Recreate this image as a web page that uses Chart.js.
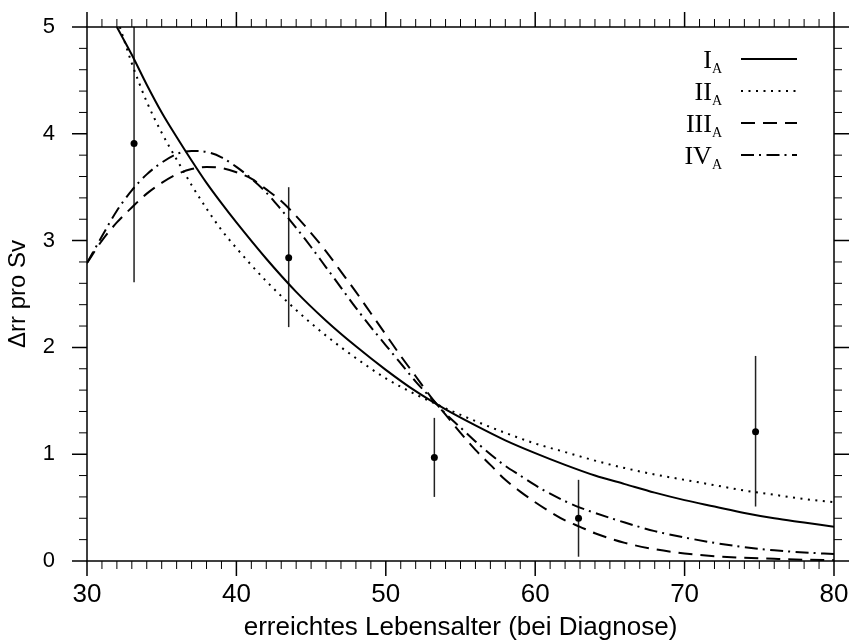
<!DOCTYPE html>
<html>
<head>
<meta charset="utf-8">
<script src="https://cdn.jsdelivr.net/npm/chart.js@4.4.1/dist/chart.umd.min.js"></script>
<style>
  html, body { margin: 0; padding: 0; background: #fff; }
  #wrap { width: 851px; height: 641px; }
</style>
</head>
<body>
<div id="wrap"><canvas id="c" width="851" height="641"></canvas></div>
<script>
// ---- data ----
const xTickLabels = [30, 40, 50, 60, 70, 80];
const yTickLabels = [0, 1, 2, 3, 4, 5];
const legendLabels = ['I', 'II', 'III', 'IV'];
const legendSub = 'A';

const xI = [32, 33, 34, 35, 36, 37, 38, 39, 40, 42, 44, 46, 48, 50, 52, 54, 56, 58, 60, 62, 64, 66, 68, 70, 72, 74, 76, 78, 80];
const yI = [5.00, 4.74, 4.46, 4.20, 3.97, 3.75, 3.54, 3.35, 3.17, 2.83, 2.52, 2.25, 2.01, 1.79, 1.59, 1.42, 1.27, 1.13, 1.01, 0.90, 0.80, 0.72, 0.64, 0.57, 0.51, 0.45, 0.40, 0.36, 0.32];

const xII = [32.2, 33, 34, 35, 36, 37, 38, 39, 40, 42, 44, 46, 48, 50, 52, 54, 56, 58, 60, 62, 64, 66, 68, 70, 72, 74, 76, 78, 80];
const yII = [5.00, 4.66, 4.30, 4.01, 3.76, 3.52, 3.30, 3.10, 2.93, 2.62, 2.35, 2.11, 1.90, 1.71, 1.56, 1.43, 1.31, 1.20, 1.10, 1.02, 0.94, 0.87, 0.81, 0.76, 0.71, 0.66, 0.62, 0.58, 0.55];

const xIII = [30, 31, 32, 33, 34, 35, 36, 37, 38, 39, 40, 41, 42, 43, 44, 45, 46, 47, 48, 49, 50, 51, 52, 53, 54, 55, 56, 57, 58, 59, 60, 61, 62, 63, 64, 66, 68, 70, 72, 74, 76, 78, 80];
const yIII = [2.79, 3.00, 3.17, 3.31, 3.44, 3.54, 3.62, 3.67, 3.69, 3.68, 3.64, 3.58, 3.48, 3.37, 3.23, 3.07, 2.90, 2.71, 2.52, 2.32, 2.12, 1.92, 1.73, 1.54, 1.37, 1.20, 1.04, 0.90, 0.76, 0.65, 0.55, 0.46, 0.38, 0.32, 0.26, 0.17, 0.11, 0.07, 0.045, 0.03, 0.02, 0.012, 0.008];

const xIV = [30, 31, 32, 33, 34, 35, 36, 37, 38, 39, 40, 41, 42, 43, 44, 45, 46, 47, 48, 49, 50, 51, 52, 53, 54, 55, 56, 57, 58, 59, 60, 61, 62, 63, 64, 66, 68, 70, 72, 74, 76, 78, 80];
const yIV = [2.79, 3.04, 3.28, 3.47, 3.62, 3.73, 3.81, 3.84, 3.83, 3.78, 3.69, 3.58, 3.45, 3.29, 3.12, 2.94, 2.75, 2.56, 2.37, 2.19, 2.02, 1.85, 1.68, 1.53, 1.38, 1.25, 1.12, 1.00, 0.89, 0.80, 0.71, 0.63, 0.56, 0.50, 0.45, 0.36, 0.28, 0.22, 0.17, 0.13, 0.10, 0.08, 0.065];

const obsX = [33.15, 43.5, 53.25, 62.9, 74.75];
const obsY = [3.91, 2.84, 0.97, 0.40, 1.21];
const obsLow = [2.61, 2.19, 0.60, 0.04, 0.51];
const obsHigh = [5.30, 3.50, 1.34, 0.76, 1.92];

const X_MIN = 30, X_MAX = 80, X_MINOR = 1;
const Y_MIN = 0, Y_MAX = 5, Y_MINOR = 0.2;

// ---- build ----
const zip = (xs, ys) => xs.map((x, i) => ({ x: x, y: ys[i] }));
const lineDs = (label, xs, ys, dash) => ({
  type: 'line', label: label, data: zip(xs, ys),
  borderColor: '#000', borderWidth: 2, borderDash: dash,
  pointRadius: 0, fill: false, cubicInterpolationMode: 'monotone'
});

const dashes = [[], [2, 5.5], [14, 8], [13, 5, 2, 5.5]];

const noPad = (s) => { s.paddingTop = 0; s.paddingBottom = 0; s.paddingLeft = 0; s.paddingRight = 0; };

const errorBars = {
  id: 'errorBars',
  beforeDatasetsDraw(chart) {
    const { ctx, chartArea: a, scales: { x, y } } = chart;
    ctx.save();
    ctx.beginPath(); ctx.rect(a.left, a.top, a.right - a.left, a.bottom - a.top); ctx.clip();
    ctx.strokeStyle = '#222'; ctx.lineWidth = 1.5;
    obsX.forEach((v, i) => {
      const px = x.getPixelForValue(v);
      ctx.beginPath();
      ctx.moveTo(px, y.getPixelForValue(obsLow[i]));
      ctx.lineTo(px, y.getPixelForValue(obsHigh[i]));
      ctx.stroke();
    });
    ctx.restore();
  }
};

const frame = {
  id: 'frame',
  afterDraw(chart) {
    const { ctx, chartArea: a, scales: { x, y } } = chart;
    ctx.save();
    ctx.strokeStyle = '#000';
    ctx.lineWidth = 1.5;
    ctx.strokeRect(a.left, a.top, a.right - a.left, a.bottom - a.top);
    const nx = Math.round((X_MAX - X_MIN) / X_MINOR);
    for (let i = 0; i <= nx; i++) {
      const v = X_MIN + i * X_MINOR;
      const major = xTickLabels.indexOf(v) >= 0;
      const L = major ? 15 : 8;
      const px = x.getPixelForValue(v);
      ctx.lineWidth = major ? 1.5 : 1;
      ctx.beginPath();
      ctx.moveTo(px, a.bottom); ctx.lineTo(px, a.bottom + L);
      ctx.moveTo(px, a.top); ctx.lineTo(px, a.top - L);
      ctx.stroke();
    }
    const ny = Math.round((Y_MAX - Y_MIN) / Y_MINOR);
    for (let i = 0; i <= ny; i++) {
      const v = +(Y_MIN + i * Y_MINOR).toFixed(3);
      const major = yTickLabels.indexOf(v) >= 0;
      const L = major ? 15 : 8;
      const py = y.getPixelForValue(v);
      ctx.lineWidth = major ? 1.5 : 1;
      ctx.beginPath();
      ctx.moveTo(a.left, py); ctx.lineTo(a.left - L, py);
      ctx.moveTo(a.right, py); ctx.lineTo(a.right + L, py);
      ctx.stroke();
    }
    // legend
    const rows = [59, 91, 123, 155];
    chart.data.datasets.slice(0, 4).forEach((ds, i) => {
      const ry = rows[i];
      ctx.lineWidth = 2;
      ctx.setLineDash(ds.borderDash || []);
      ctx.beginPath(); ctx.moveTo(741, ry); ctx.lineTo(797, ry); ctx.stroke();
      ctx.setLineDash([]);
      ctx.fillStyle = '#000';
      ctx.textBaseline = 'alphabetic';
      ctx.textAlign = 'right';
      ctx.font = '14px "Liberation Serif", serif';
      ctx.fillText(legendSub, 722, ry + 14);
      const sw = ctx.measureText(legendSub).width;
      ctx.font = '26px "Liberation Serif", serif';
      ctx.fillText(legendLabels[i], 722 - sw, ry + 9);
    });
    ctx.restore();
  }
};

new Chart(document.getElementById('c'), {
  data: {
    datasets: [
      lineDs(legendLabels[0] + legendSub, xI, yI, dashes[0]),
      lineDs(legendLabels[1] + legendSub, xII, yII, dashes[1]),
      lineDs(legendLabels[2] + legendSub, xIII, yIII, dashes[2]),
      lineDs(legendLabels[3] + legendSub, xIV, yIV, dashes[3]),
      {
        type: 'scatter', label: 'Beobachtung', data: zip(obsX, obsY),
        pointRadius: 3.5, pointBackgroundColor: '#000', pointBorderColor: '#000',
        pointStyle: 'circle', borderWidth: 0
      }
    ]
  },
  options: {
    responsive: false,
    devicePixelRatio: 1,
    animation: false,
    layout: { padding: { top: 27, right: 17, left: 0, bottom: 0 } },
    plugins: { legend: { display: false }, tooltip: { enabled: false } },
    scales: {
      x: {
        type: 'linear', position: 'bottom', min: X_MIN, max: X_MAX,
        afterFit(s) { s.height = 80; noPad(s); },
        afterBuildTicks(s) { s.ticks = xTickLabels.map(v => ({ value: v })); },
        grid: { display: false }, border: { display: false },
        ticks: { color: '#000', padding: 10, maxRotation: 0, autoSkip: false,
                 font: { family: '"Liberation Sans", Arial, sans-serif', size: 26 } },
        title: { display: true, text: 'erreichtes Lebensalter (bei Diagnose)', color: '#000',
                 padding: { top: 0, bottom: 0 },
                 font: { family: '"Liberation Sans", Arial, sans-serif', size: 26, lineHeight: 1 } }
      },
      y: {
        type: 'linear', position: 'left', min: Y_MIN, max: Y_MAX,
        afterFit(s) { s.width = 87; noPad(s); },
        afterBuildTicks(s) { s.ticks = yTickLabels.map(v => ({ value: v })); },
        grid: { display: false }, border: { display: false },
        ticks: { color: '#000', padding: 24, autoSkip: false,
                 font: { family: '"Liberation Sans", Arial, sans-serif', size: 22 } },
        title: { display: true, text: 'Δrr pro Sv', color: '#000',
                 padding: { top: 6, bottom: 0 },
                 font: { family: '"Liberation Sans", Arial, sans-serif', size: 24, lineHeight: 1 } }
      }
    }
  },
  plugins: [errorBars, frame]
});
</script>
</body>
</html>
